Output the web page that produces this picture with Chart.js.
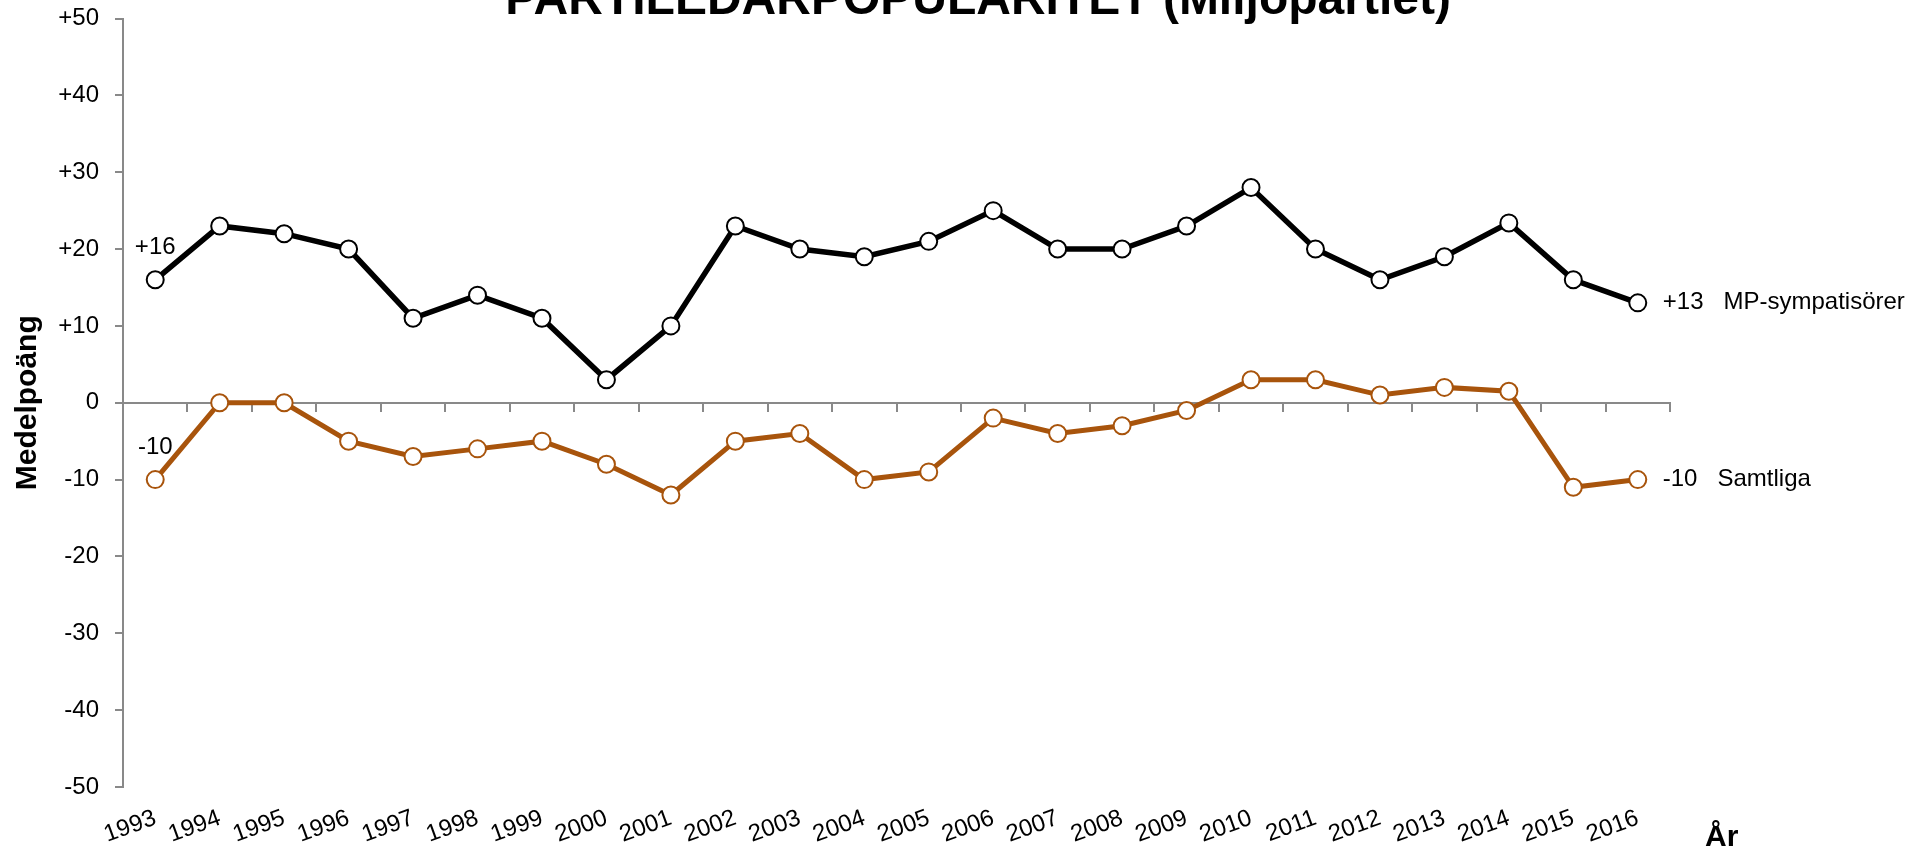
<!DOCTYPE html>
<html>
<head>
<meta charset="utf-8">
<script src="https://cdn.jsdelivr.net/npm/chart.js@4.4.1/dist/chart.umd.min.js"></script>
<style>html,body{margin:0;padding:0;background:#fff;overflow:hidden}</style>
</head>
<body>
<canvas id="c" width="1924" height="849"></canvas>
<script>
const years = ['1993','1994','1995','1996','1997','1998','1999','2000','2001','2002','2003','2004','2005','2006','2007','2008','2009','2010','2011','2012','2013','2014','2015','2016'];
const mpSympatisorer = [16,23,22,20,11,14,11,3,10,23,20,19,21,25,20,20,23,28,20,16,19,23.4,16,13];
const samtliga = [-10,0,0,-5,-7,-6,-5,-8,-12,-5,-4,-10,-9,-2,-4,-3,-1,3,3,1,2,1.5,-11,-10];
const seriesNames = ['MP-sympatisörer','Samtliga'];
const yMin = -50, yMax = 50, yStep = 10;
const chartTitle = 'PARTILEDARPOPULARITET (Miljöpartiet)';
const yTitle = 'Medelpoäng';
const xTitle = 'År';

const FONT = '"Liberation Sans", Arial, sans-serif';
const AXIS_GRAY = '#898989';
const ORANGE = '#A8540C';
Chart.defaults.font.family = FONT;
Chart.defaults.color = '#000';

const fmt = v => v > 0 ? '+' + Math.round(v) : String(Math.round(v));

const annot = {
  id: 'annot',
  afterDatasetsDraw(chart) {
    const ctx = chart.ctx;
    ctx.save();
    ctx.fillStyle = '#000';
    ctx.font = '24px ' + FONT;
    chart.data.datasets.forEach((ds, i) => {
      const meta = chart.getDatasetMeta(i);
      const first = meta.data[0];
      const last = meta.data[meta.data.length - 1];
      ctx.textAlign = 'center';
      ctx.textBaseline = 'alphabetic';
      ctx.fillText(fmt(ds.data[0]), first.x, first.y - 26);
      ctx.textAlign = 'left';
      ctx.textBaseline = 'middle';
      ctx.fillText(fmt(ds.data[ds.data.length - 1]) + '   ' + ds.label, last.x + 25, last.y);
    });
    ctx.font = 'bold 48px ' + FONT;
    ctx.textAlign = 'center';
    ctx.textBaseline = 'alphabetic';
    ctx.fillText(chartTitle, chart.width / 2 + 16, 14);
    ctx.font = 'bold 30px ' + FONT;
    ctx.textAlign = 'left';
    ctx.fillText(xTitle, chart.chartArea.right + 35, 846);
    ctx.restore();
  }
};

const noPad = s => { s.paddingTop = 0; s.paddingBottom = 0; };

new Chart(document.getElementById('c'), {
  type: 'line',
  data: {
    labels: years,
    datasets: [
      {
        label: seriesNames[0],
        data: mpSympatisorer,
        borderColor: '#000',
        borderWidth: 5.5,
        pointRadius: 8.5,
        pointBorderWidth: 2,
        pointBackgroundColor: '#fff',
        pointBorderColor: '#000',
        tension: 0,
        xAxisID: 'x'
      },
      {
        label: seriesNames[1],
        data: samtliga,
        borderColor: ORANGE,
        borderWidth: 5,
        pointRadius: 8.5,
        pointBorderWidth: 2,
        pointBackgroundColor: '#fff',
        pointBorderColor: ORANGE,
        tension: 0,
        xAxisID: 'x'
      }
    ]
  },
  options: {
    responsive: false,
    animation: false,
    devicePixelRatio: 1,
    layout: { padding: { top: 18.5, right: 254, bottom: 0, left: 0 } },
    plugins: { legend: { display: false }, title: { display: false }, tooltip: { enabled: false } },
    scales: {
      y: {
        min: yMin, max: yMax,
        ticks: {
          stepSize: yStep,
          font: { size: 24 },
          color: '#000',
          padding: 16,
          callback: v => v > 0 ? '+' + v : String(v)
        },
        grid: { display: true, drawOnChartArea: false, drawTicks: true, tickLength: 8, color: AXIS_GRAY, lineWidth: 2 },
        border: { display: true, color: AXIS_GRAY, width: 2 },
        title: { display: true, text: yTitle, font: { size: 30, weight: 'bold' }, color: '#000', padding: { top: 10, bottom: 0 } },
        afterFit: s => { s.width = 123; noPad(s); }
      },
      x: {
        type: 'category',
        position: { y: 0 },
        offset: true,
        ticks: { display: false },
        grid: { display: true, offset: true, drawOnChartArea: false, drawTicks: true, tickLength: 8, color: AXIS_GRAY, lineWidth: 2 },
        border: { display: true, color: AXIS_GRAY, width: 2 },
        afterFit: s => { noPad(s); }
      },
      x2: {
        type: 'category',
        axis: 'x',
        position: 'bottom',
        offset: true,
        grid: { display: false, drawTicks: false },
        border: { display: false },
        ticks: { font: { size: 24 }, color: '#000', minRotation: 20, maxRotation: 20, autoSkip: false, padding: 17 },
        afterFit: s => { s.height = 62; noPad(s); }
      }
    }
  },
  plugins: [annot]
});
</script>
</body>
</html>
